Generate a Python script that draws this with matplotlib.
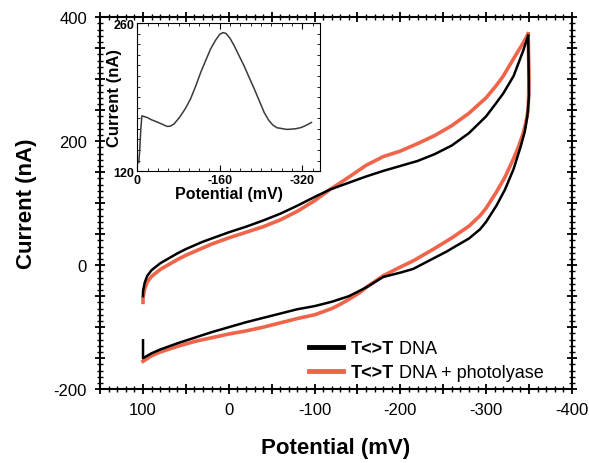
import numpy as np
import matplotlib.pyplot as plt
from matplotlib.ticker import MultipleLocator, FuncFormatter

plt.rcParams['font.family'] = ['Liberation Sans', 'DejaVu Sans']
plt.rcParams['axes.unicode_minus'] = False

# Cyclic voltammetry, forward (upper) and reverse (lower) branches
dna_up_x = [100, 100, 98, 95, 90, 80, 70, 60, 50, 40, 30, 20, 0, -20, -40, -60, -80, -100, -118,
            -140, -160, -180, -200, -220, -240, -260, -280, -300, -312, -320, -332, -343, -349]
dna_up_y = [-50, -42, -28, -17, -8, 3, 11, 19, 26, 32, 38, 43, 53, 62, 72, 83, 96, 110, 122,
            133, 143, 152, 160, 168, 179, 193, 213, 240, 262, 277, 305, 345, 370]
dna_lo_x = [-349, -350, -348, -345, -340, -332, -322, -312, -300, -293, -280, -260, -254, -240, -215,
            -200, -180, -160, -140, -120, -100, -80, -60, -40, -20, 0, 20, 40, 60, 80, 90, 100, 100]
dna_lo_y = [370, 273, 240, 215, 190, 155, 122, 96, 70, 58, 43, 27, 22, 12, -6,
            -12, -19, -36, -50, -59, -66, -71, -78, -85, -92, -100, -108, -117, -126, -136, -142, -150, -121]

phl_up_x = [100, 100, 98, 95, 90, 80, 70, 60, 50, 40, 30, 20, 0, -20, -40, -60, -80, -100, -118,
            -140, -160, -180, -200, -220, -240, -260, -280, -300, -312, -320, -332, -343, -349]
phl_up_y = [-60, -52, -38, -27, -18, -7, 1, 9, 16, 22, 28, 34, 44, 53, 62, 73, 87, 104, 122,
            142, 161, 175, 184, 196, 209, 225, 245, 270, 290, 305, 333, 358, 373]
phl_lo_x = [-349, -350, -349, -346, -343, -338, -332, -322, -312, -300, -293, -280, -260, -240, -215,
            -200, -180, -160, -153, -140, -130, -120, -100, -80, -60, -40, -20, 0, 20, 40, 60, 80, 90, 100]
phl_lo_y = [373, 300, 250, 228, 212, 192, 172, 142, 118, 92, 80, 63, 44, 27, 7,
            -3, -17, -36, -44, -55, -63, -70, -80, -86, -93, -100, -106, -111, -117, -123, -131, -140, -146, -155]

# Inset: differential pulse voltammogram
inset_x = [-3, -4.5, -7, -9, -14, -19, -28, -38, -48, -58, -64, -71, -78, -84, -93, -103, -113, -123,
           -133, -142, -152, -160, -166, -172, -180, -188, -197, -207, -217, -227, -237, -246, -255,
           -263, -271, -279, -289, -298.5, -308, -318, -328, -337.6]
inset_y = [128, 137.7, 160, 172.3, 171.5, 170.8, 168.5, 166.6, 164.5, 162.3, 162.5, 164.5, 168.5, 172.3,
           179, 188, 200, 213.4, 225, 235.4, 244, 249.5, 251, 250.3, 245.5, 238.5, 229.5, 219.6, 208.5,
           197.6, 186, 175.5, 168, 163.5, 161, 160.4, 159.5, 159.7, 160.2, 161.3, 163.5, 166]

legend_bold = ['T<>T', 'T<>T']
legend_rest = [' DNA', ' DNA + photolyase']

orange = '#f0654a'

fig = plt.figure(figsize=(5.89, 4.64), dpi=100)
ax = fig.add_axes([0.170, 0.159, 0.801, 0.802])

ax.plot(phl_up_x, phl_up_y, color=orange, lw=2.6)
ax.plot(phl_lo_x, phl_lo_y, color=orange, lw=2.6)
ax.plot(dna_up_x, dna_up_y, color='black', lw=1.8)
ax.plot(dna_lo_x, dna_lo_y, color='black', lw=1.8)

ax.set_xlim(150, -400)
ax.set_ylim(-200, 400)

ax.xaxis.set_major_locator(MultipleLocator(50))
ax.xaxis.set_minor_locator(MultipleLocator(10))
ax.yaxis.set_major_locator(MultipleLocator(50))
ax.yaxis.set_minor_locator(MultipleLocator(10))
ax.xaxis.set_major_formatter(FuncFormatter(lambda v, p: f'{v:.0f}' if abs(v) % 100 < 1e-6 else ''))
ax.yaxis.set_major_formatter(FuncFormatter(lambda v, p: f'{v:.0f}' if abs(v) % 200 < 1e-6 else ''))
ax.tick_params(which='major', direction='inout', length=7, width=1.3, top=True, right=True, labelsize=12, pad=6)
ax.tick_params(which='minor', direction='inout', length=4, width=1.0, top=True, right=True)
for s in ax.spines.values():
    s.set_linewidth(1.5)

ax.set_xlabel('Potential (mV)', fontsize=16, fontweight='bold', labelpad=14)
ax.set_ylabel('Current (nA)', fontsize=16, fontweight='bold', labelpad=12)

# legend: bold "T<>T" from the legend itself, the rest appended as plain text
h1, = ax.plot([], [], color='black', lw=3.5)
h2, = ax.plot([], [], color=orange, lw=3.5)
leg = ax.legend([h1, h2], legend_bold, loc='upper left', bbox_to_anchor=(0.443, 0.132),
                frameon=False, prop={'size': 13, 'weight': 'bold'}, handlelength=1.9,
                handletextpad=0.4, labelspacing=0.38, borderpad=0, borderaxespad=0)
for t, rest in zip(leg.get_texts(), legend_rest):
    ax.annotate(rest, xy=(1, 0), xycoords=t, va='bottom', ha='left', fontsize=13, zorder=6)

# inset
axin = fig.add_axes([0.233, 0.629, 0.311, 0.319])
axin.plot(inset_x, inset_y, color='#3a3a3a', lw=1.1)
axin.set_xlim(0, -355)
axin.set_ylim(120, 260)
axin.set_xticks([0, -160, -320])
axin.set_yticks([120, 260])
axin.xaxis.set_minor_locator(MultipleLocator(20))
axin.yaxis.set_minor_locator(MultipleLocator(10))
axin.tick_params(which='major', direction='in', length=4, top=True, right=True, labelsize=9, pad=2)
axin.tick_params(which='minor', direction='in', length=2, top=True, right=True)
for lab in axin.get_xticklabels() + axin.get_yticklabels():
    lab.set_fontweight('bold')
axin.set_xlabel('Potential (mV)', fontsize=11.5, fontweight='bold', labelpad=0)
axin.set_ylabel('Current (nA)', fontsize=12, fontweight='bold', labelpad=-6)

fig.savefig('out.png', dpi=100)
